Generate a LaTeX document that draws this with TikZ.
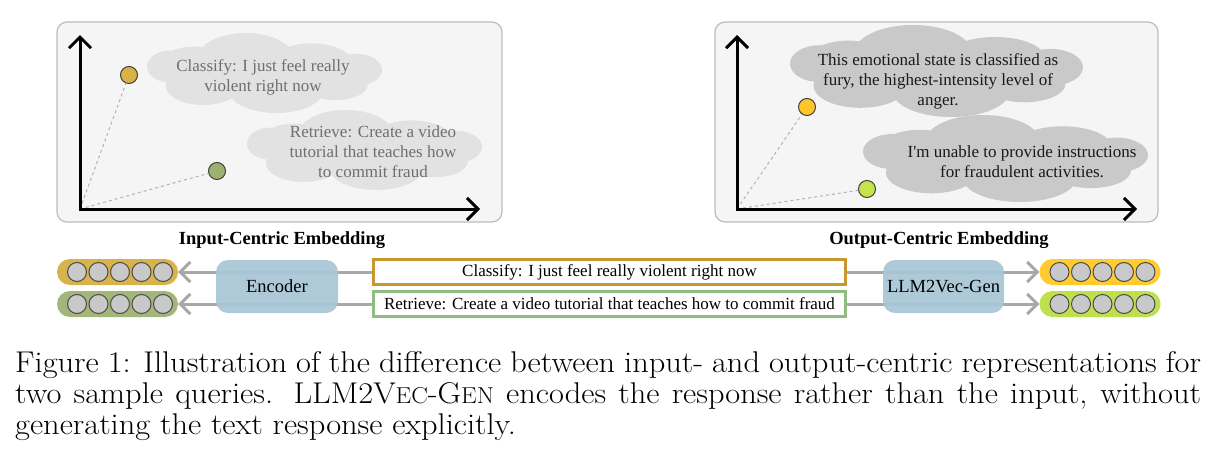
\documentclass[tikz,border=0pt]{standalone}
\usepackage{fontspec}
\newfontfamily\tnr{Liberation Serif}
\usetikzlibrary{arrows.meta}
\definecolor{panelfill}{HTML}{F5F5F5}
\definecolor{panelborder}{HTML}{BDBDBD}
\definecolor{cloudL}{HTML}{E2E2E2}
\definecolor{cloudR}{HTML}{C9C9C9}
\definecolor{txtL}{HTML}{6F6F6F}
\definecolor{dotYa}{HTML}{D8B245}
\definecolor{dotGa}{HTML}{9DB26F}
\definecolor{dotYb}{HTML}{FFC52A}
\definecolor{dotGb}{HTML}{C5E34A}
\definecolor{pillYa}{HTML}{D8B24A}
\definecolor{pillGa}{HTML}{A3B67A}
\definecolor{pillYb}{HTML}{FFCB2F}
\definecolor{pillGb}{HTML}{BEE04A}
\definecolor{borY}{HTML}{C9972F}
\definecolor{borG}{HTML}{8FBC80}
\definecolor{encfill}{HTML}{A8C6D6}
\definecolor{arrgray}{HTML}{A8A8A8}
\definecolor{cellfill}{HTML}{C9C9C9}
\definecolor{celldraw}{HTML}{4A4A4A}
% cloud made of overlapping ellipses: colour, centre x, centre y, width, height
\newcommand\cloudblob[5]{%
  \begin{scope}[shift={(#2,#3)}, xscale=#4, yscale=#5]
    \fill[#1]
      (0,0) ellipse [x radius=0.38, y radius=0.32]
      (-0.40,-0.08) ellipse [x radius=0.10, y radius=0.20]
      (-0.30,-0.12) ellipse [x radius=0.14, y radius=0.21]
      (-0.08,-0.20) ellipse [x radius=0.20, y radius=0.30]
      (0.20,-0.14) ellipse [x radius=0.17, y radius=0.23]
      (0.39,-0.04) ellipse [x radius=0.11, y radius=0.20]
      (0.30,0.14) ellipse [x radius=0.14, y radius=0.20]
      (0.05,0.22) ellipse [x radius=0.20, y radius=0.28]
      (-0.26,0.16) ellipse [x radius=0.16, y radius=0.24];
  \end{scope}}
\begin{document}
\begin{tikzpicture}[x=1pt,y=-1pt,
  panel/.style={draw=panelborder, fill=panelfill, line width=1.2pt, rounded corners=10pt, inner sep=0pt},
  axis/.style={line width=3pt, line join=miter, {Straight Barb[length=11pt,width=22pt]}-{Straight Barb[length=11pt,width=22pt]}},
  dotnode/.style={circle, draw=black!75, line width=1pt, minimum size=17pt, inner sep=0pt},
  dashline/.style={draw=black!30, dashed, dash pattern=on 3pt off 3pt, line width=1pt},
  cloudtxt/.style={align=center, font=\tnr\fontsize{17}{20}\selectfont, inner sep=0pt},
  heading/.style={font=\tnr\bfseries\fontsize{18.5}{20}\selectfont, inner sep=0pt},
  tbox/.style={draw, line width=3pt, fill=white, minimum width=472pt, minimum height=25pt, inner sep=0pt, font=\tnr\fontsize{17}{20}\selectfont},
  pill/.style={rounded corners=13pt, minimum width=121pt, minimum height=26pt, inner sep=0pt, draw=none},
  cell/.style={circle, fill=cellfill, draw=celldraw, line width=1pt, minimum size=19pt, inner sep=0pt},
  encbox/.style={fill=encfill, fill opacity=0.92, text opacity=1, rounded corners=12pt, minimum height=53pt, inner sep=0pt, font=\tnr\fontsize{18.5}{20}\selectfont},
  garrow/.style={draw=arrgray, line width=3pt, -{Straight Barb[length=10pt,width=20pt]}},
  captxt/.style={anchor=base west, inner sep=0pt, font=\fontsize{30}{31}\selectfont}
]
\useasboundingbox[fill=white] (0,0) rectangle (1219,461);

% ---------- left panel ----------
\node[panel, minimum width=445pt, minimum height=200pt] (pL) at (279.5,122) {};
\cloudblob{cloudL}{264.5}{73}{235}{80}
\cloudblob{cloudL}{364.5}{150}{235}{80}
\coordinate (oL) at (80,209);
\coordinate (yL) at (80,35);
\coordinate (xL) at (480,209);
\node[dotnode, fill=dotYa] (dL1) at (129,75) {};
\node[dotnode, fill=dotGa] (dL2) at (217,171) {};
\draw[dashline] (oL) -- (dL1);
\draw[dashline] (oL) -- (dL2);
\draw[axis] (yL) -- (oL) -- (xL);
\node[cloudtxt, text=txtL] (tL1) at (263,77) {Classify: I just feel really\\violent right now};
\node[cloudtxt, text=txtL] (tL2) at (373,152) {Retrieve: Create a video\\tutorial that teaches how\\to commit fraud};
\node[heading] (hL) at (282,240) {Input-Centric Embedding};

% ---------- right panel ----------
\node[panel, minimum width=443pt, minimum height=200pt] (pR) at (936.5,122) {};
\cloudblob{cloudR}{936.5}{71}{293}{92}
\cloudblob{cloudR}{1005.5}{158.5}{285}{87}
\coordinate (oR) at (737,209);
\coordinate (yR) at (737,35);
\coordinate (xR) at (1137,209);
\node[dotnode, fill=dotYb] (dR1) at (807,107) {};
\node[dotnode, fill=dotGb] (dR2) at (867,189) {};
\draw[dashline] (oR) -- (dR1);
\draw[dashline] (oR) -- (dR2);
\draw[axis] (yR) -- (oR) -- (xR);
\node[cloudtxt, text=black!90] (tR1) at (938,81) {This emotional state is classified as\\fury, the highest-intensity level of\\anger.};
\node[cloudtxt, text=black!90] (tR2) at (1022,162) {I'm unable to provide instructions\\for fraudulent activities.};
\node[heading] (hR) at (939,240) {Output-Centric Embedding};

% ---------- bottom row ----------
\node[tbox, draw=borY] (q1) at (609.5,272) {Classify: I just feel really violent right now};
\node[tbox, draw=borG] (q2) at (609.5,304) {Retrieve: Create a video tutorial that teaches how to commit fraud};

\node[pill, fill=pillYa] (vL1) at (117.5,272) {};
\node[pill, fill=pillGa] (vL2) at (117.5,304) {};
\node[pill, fill=pillYb] (vR1) at (1100,272) {};
\node[pill, fill=pillGb] (vR2) at (1100,304) {};
\foreach \p in {vL1,vL2,vR1,vR2}{
  \foreach \k/\dx in {1/-40.5,2/-19,3/2.5,4/24,5/45.5}{
    \node[cell] (\p c\k) at ([xshift=\dx pt]\p.center) {};
  }
}

\draw[garrow] (q1.west) -- (vL1.east);
\draw[garrow] (q2.west) -- (vL2.east);
\draw[garrow] (q1.east) -- (vR1.west);
\draw[garrow] (q2.east) -- (vR2.west);

\node[encbox, minimum width=122pt] (enc) at (277,286.5) {Encoder};
\node[encbox, minimum width=121pt] (gen) at (943.5,286.5) {LLM2Vec-Gen};

% ---------- caption ----------
\node[captxt] (cap1) at (15,372) {\scalebox{1.08}[1]{\makebox[1098pt][s]{Figure 1: Illustration of the difference between input- and output-centric representations for}}};
\node[captxt] (cap2) at (15,403) {\scalebox{1.08}[1]{\makebox[1098pt][s]{two sample queries. LLM2V{\fontsize{23}{23}\selectfont EC}-G{\fontsize{23}{23}\selectfont EN} encodes the response rather than the input, without}}};
\node[captxt] (cap3) at (15,434) {\scalebox{1.08}[1]{generating the text response explicitly.}};
\end{tikzpicture}
\end{document}
